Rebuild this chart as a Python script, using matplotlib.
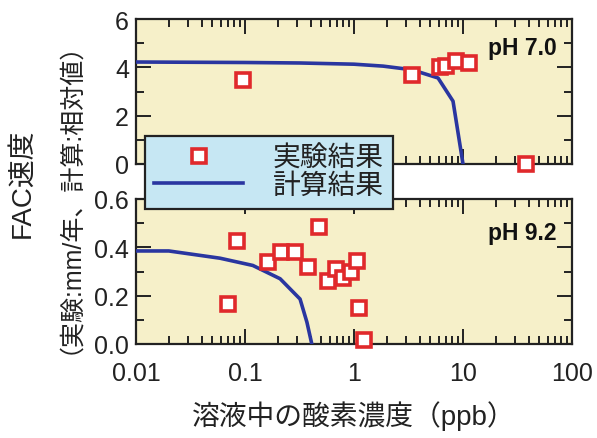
import numpy as np
from matplotlib import pyplot as plt
from matplotlib.ticker import LogLocator, MultipleLocator, FixedLocator, NullFormatter

plt.rcParams['font.family'] = ['Liberation Sans', 'Noto Sans CJK JP', 'DejaVu Sans']

# pH 7.0: experiment (squares) and calculation (line)
exp7_x = [0.096, 3.4, 6.2, 7.0, 8.6, 11.4, 38.0]
exp7_y = [3.48, 3.68, 4.02, 4.05, 4.25, 4.18, 0.0]
calc7_x = [0.01, 0.1, 0.32, 1.0, 1.85, 3.4, 5.9, 8.1, 10.0]
calc7_y = [4.22, 4.2, 4.18, 4.13, 4.05, 3.9, 3.56, 2.6, 0.0]

# pH 9.2
exp9_x = [0.07, 0.085, 0.163, 0.215, 0.288, 0.38, 0.48, 0.58, 0.68, 0.80, 0.94, 1.07, 1.12, 1.23]
exp9_y = [0.165, 0.425, 0.34, 0.38, 0.38, 0.318, 0.484, 0.262, 0.31, 0.272, 0.30, 0.345, 0.148, 0.016]
calc9_x = [0.01, 0.02, 0.059, 0.118, 0.21, 0.32, 0.37, 0.41]
calc9_y = [0.385, 0.385, 0.355, 0.325, 0.27, 0.186, 0.09, 0.0]

x_ticks = [0.01, 0.1, 1, 10, 100]
x_ticklabels = ['0.01', '0.1', '1', '10', '100']

bg = '#f6f0c9'
red = '#e0292b'
blue = '#2a36a0'
ink = '#222222'

fig = plt.figure(figsize=(5.97, 4.39), dpi=100)
W, H = 597, 439
ax1 = fig.add_axes([136 / W, 1 - 165 / H, 436 / W, 145 / H])
ax2 = fig.add_axes([136 / W, 1 - 345 / H, 436 / W, 145 / H])

mk = dict(ls='none', marker='s', ms=9.5, mfc='white', mec=red, mew=2.6, clip_on=False, zorder=4)
ln = dict(color=blue, lw=2.6, zorder=3)

h_line, = ax1.plot(calc7_x, calc7_y, **ln)
h_mk, = ax1.plot(exp7_x, exp7_y, **mk)
ax2.plot(calc9_x, calc9_y, **ln)
ax2.plot(exp9_x, exp9_y, **mk)

for ax in (ax1, ax2):
    ax.set_facecolor(bg)
    ax.set_xscale('log')
    ax.set_xlim(0.01, 100)
    ax.xaxis.set_major_locator(FixedLocator(x_ticks))
    ax.xaxis.set_minor_locator(LogLocator(base=10, subs=np.arange(2, 10), numticks=20))
    ax.xaxis.set_minor_formatter(NullFormatter())
    ax.tick_params(which='both', direction='in', top=True, right=True, color=ink, width=1.4,
                   labelsize=18, labelcolor=ink)
    ax.tick_params(which='major', length=11)
    ax.tick_params(which='minor', length=6)
    ax.tick_params(axis='y', pad=5)
    for s in ax.spines.values():
        s.set_linewidth(1.6)
        s.set_color(ink)

ax1.set_ylim(0, 6)
ax1.yaxis.set_major_locator(MultipleLocator(2))
ax1.yaxis.set_minor_locator(MultipleLocator(1))
ax1.tick_params(axis='x', labelbottom=False)

ax2.set_ylim(0, 0.6)
ax2.yaxis.set_major_locator(MultipleLocator(0.2))
ax2.yaxis.set_minor_locator(MultipleLocator(0.1))
ax2.yaxis.set_major_formatter(lambda v, p: f'{v:.1f}')
ax2.set_xticklabels(x_ticklabels)
ax2.tick_params(axis='x', pad=12)

ax1.text(0.965, 0.80, 'pH 7.0', transform=ax1.transAxes, ha='right', va='center',
         fontsize=16.5, fontweight='bold', color='#111111')
ax2.text(0.965, 0.77, 'pH 9.2', transform=ax2.transAxes, ha='right', va='center',
         fontsize=16.5, fontweight='bold', color='#111111')

ax2.set_xlabel('溶液中の酸素濃度（ppb）', fontsize=20, color=ink, labelpad=11)
fig.text(22 / W, 1 - 183 / H, 'FAC速度', rotation=90, ha='center', va='center',
         fontsize=20, color=ink)
fig.text(57 / W, 1 - 185 / H, '（実験:mm/年、計算:相対値）', rotation=90, ha='center',
         va='center', fontsize=18, color=ink)

leg = fig.legend([h_mk, h_line], ['実験結果', '計算結果'], loc='upper left',
                 bbox_to_anchor=(145 / W, 1 - 137 / H), bbox_transform=fig.transFigure,
                 borderaxespad=0, fontsize=20, handlelength=3.2, handletextpad=1.05,
                 labelspacing=0.06, borderpad=0.34, fancybox=False, framealpha=1,
                 numpoints=1)
leg.get_frame().set_facecolor('#c6e7f3')
leg.get_frame().set_edgecolor(ink)
leg.get_frame().set_linewidth(1.6)
for t in leg.get_texts():
    t.set_color(ink)

fig.savefig('out.png', dpi=100)
